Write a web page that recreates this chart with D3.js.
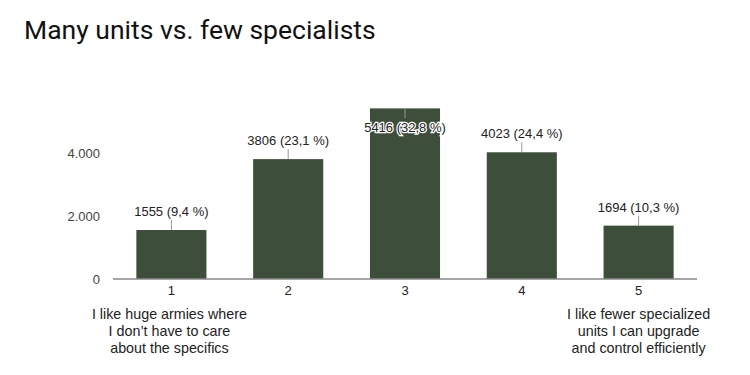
<!DOCTYPE html>
<html>
<head>
<meta charset="UTF-8">
<title>Many units vs. few specialists</title>
<script src="https://cdnjs.cloudflare.com/ajax/libs/d3/7.8.5/d3.min.js"></script>
<style>
html, body { margin: 0; padding: 0; background: #fff; }
svg { display: block; }
.tick text { font-family: "Liberation Sans", Arial, sans-serif; }
</style>
</head>
<body>
<script>
// answers on the 1-5 scale
var categories = ["1", "2", "3", "4", "5"];
var counts = [1555, 3806, 5416, 4023, 1694];
var percents = ["9,4", "23,1", "32,8", "24,4", "10,3"];
var yTicks = [0, 2000, 4000];
var leftNote = ["I like huge armies where", "I don\u2019t have to care", "about the specifics"];
var rightNote = ["I like fewer specialized", "units I can upgrade", "and control efficiently"];

var width = 750,
    height = 375;

var svg = d3.select("body").append("svg")
    .attr("width", width)
    .attr("height", height);

svg.append("text")
    .attr("x", 24)
    .attr("y", 39)
    .attr("font-family", "Roboto, sans-serif")
    .attr("font-size", 26.5)
    .attr("fill", "#111")
    .text("Many units vs. few specialists");

var x = d3.scaleBand()
    .domain(categories)
    .range([113, 697])
    .paddingInner(0.4)
    .paddingOuter(0.2);

var y = d3.scaleLinear()
    .domain([0, d3.max(counts)])
    .range([279, 108.4]);

var fmt = function (d) { return d3.format(",")(d).replace(/,/g, "."); };

// y axis labels only
var yAxis = svg.append("g")
    .attr("transform", "translate(100,0)")
    .call(d3.axisLeft(y).tickValues(yTicks).tickFormat(fmt).tickSize(0).tickPadding(0));
yAxis.select(".domain").remove();
yAxis.selectAll("text")
    .attr("font-size", 13)
    .attr("fill", "#444");

var bars = svg.append("g");
bars.selectAll("rect")
    .data(counts)
    .enter()
    .append("rect")
    .attr("x", function (d, i) { return x(categories[i]); })
    .attr("y", function (d) { return y(d); })
    .attr("width", x.bandwidth())
    .attr("height", function (d) { return y(0) - y(d); })
    .attr("fill", "#3d4e3b");

// x axis
var xAxis = svg.append("g")
    .attr("transform", "translate(0," + y(0) + ")")
    .call(d3.axisBottom(x).tickSize(0).tickPadding(7));
xAxis.select(".domain").attr("stroke", "#888").attr("stroke-width", 1.5)
    .attr("d", "M113,0H697");
xAxis.selectAll("text")
    .attr("font-size", 13)
    .attr("fill", "#222");

// value labels with leader lines
var labels = svg.append("g");
counts.forEach(function (d, i) {
    var cx = x(categories[i]) + x.bandwidth() / 2;
    var top = y(d);
    var inside = top - 18 < y.range()[1];
    var ly = inside ? top + 24 : top - 14;
    labels.append("line")
        .attr("x1", cx).attr("x2", cx)
        .attr("y1", top)
        .attr("y2", inside ? top + 10 : top - 10)
        .attr("stroke", "#999")
        .attr("stroke-width", 1);
    labels.append("text")
        .attr("x", cx)
        .attr("y", ly)
        .attr("text-anchor", "middle")
        .attr("font-family", "Liberation Sans, Arial, sans-serif")
        .attr("font-size", 13)
        .attr("fill", "#222")
        .attr("stroke", inside ? "#fff" : "none")
        .attr("stroke-width", inside ? 2.5 : 0)
        .attr("paint-order", "stroke")
        .text(d + " (" + percents[i] + " %)");
});

// scale end notes
function note(lines, cat) {
    var t = svg.append("text")
        .attr("text-anchor", "middle")
        .attr("font-family", "Liberation Sans, Arial, sans-serif")
        .attr("font-size", 14.3)
        .attr("fill", "#222");
    lines.forEach(function (s, k) {
        t.append("tspan")
            .attr("x", x(cat) + x.bandwidth() / 2 - (cat === "1" ? 2 : 0))
            .attr("y", 319 + k * 17)
            .text(s);
    });
}
note(leftNote, categories[0]);
note(rightNote, categories[4]);
</script>
</body>
</html>
